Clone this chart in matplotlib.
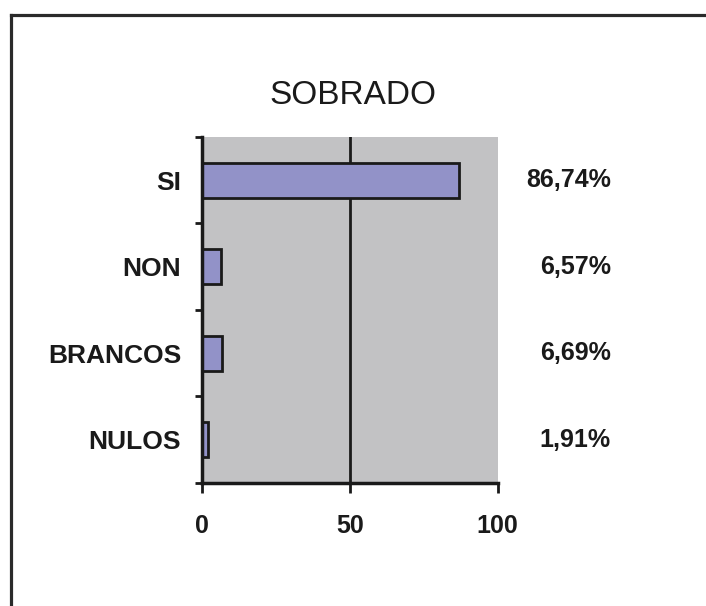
import numpy as np
import matplotlib
matplotlib.use("Agg")
import matplotlib.pyplot as plt
from matplotlib.lines import Line2D
import matplotlib.transforms as mtransforms

# data
categories = ["SI", "NON", "BRANCOS", "NULOS"]
values = [86.74, 6.57, 6.69, 1.91]
x_ticks = [0, 50, 100]
title = "SOBRADO"

plt.rcParams["font.family"] = ["Liberation Sans", "DejaVu Sans"]

fig = plt.figure(figsize=(7.06, 6.06), dpi=100)
ax = fig.add_axes([0.286, 0.203, 0.419, 0.571])

pos = np.arange(len(categories))
ax.barh(pos, values, height=0.4, color="#9292c8", edgecolor="#1a1a1a", linewidth=2, zorder=3)
ax.axvline(50, color="#1a1a1a", linewidth=2, zorder=2)

ax.set_facecolor("#c2c2c4")
ax.set_xlim(0, 100)
ax.set_ylim(len(categories) - 0.5, -0.5)

for s in ["top", "right"]:
    ax.spines[s].set_visible(False)
for s in ["left", "bottom"]:
    ax.spines[s].set_linewidth(2.5)
    ax.spines[s].set_color("#1a1a1a")
    ax.spines[s].set_zorder(4)

# x ticks
ax.set_xticks(x_ticks)
ax.set_xticklabels([str(t) for t in x_ticks], fontsize=18, fontweight="bold", color="#1a1a1a")
ax.tick_params(axis="x", direction="out", length=7, width=2, color="#1a1a1a", pad=15)

# y ticks at category boundaries, labels at centres
ax.set_yticks(np.arange(len(categories) + 1) - 0.5)
ax.set_yticklabels([])
ax.tick_params(axis="y", which="major", direction="out", length=5, width=2, color="#1a1a1a")
ax.set_yticks(pos, minor=True)
ax.set_yticklabels(categories, minor=True, fontsize=19, fontweight="bold", color="#1a1a1a")
ax.tick_params(axis="y", which="minor", length=0, pad=15)

# percentage labels to the right
trans = mtransforms.blended_transform_factory(ax.transAxes, ax.transData)
for p, v in zip(pos, values):
    lbl = f"{v:.2f}".replace(".", ",") + "%"
    ax.text(1.382, p, lbl, transform=trans, ha="right", va="center",
            fontsize=18, fontweight="bold", color="#1a1a1a")

fig.text(0.5, 0.843, title, ha="center", va="center", fontsize=24, color="#1a1a1a")

# frame lines of the original scan
fig.add_artist(Line2D([0.0156, 1.0], [0.975, 0.975], transform=fig.transFigure,
                      color="#2a2a2a", linewidth=2.3))
fig.add_artist(Line2D([0.0156, 0.0156], [0.0, 0.975], transform=fig.transFigure,
                      color="#2a2a2a", linewidth=2.3))

fig.savefig("out.png", dpi=100, facecolor="white")
